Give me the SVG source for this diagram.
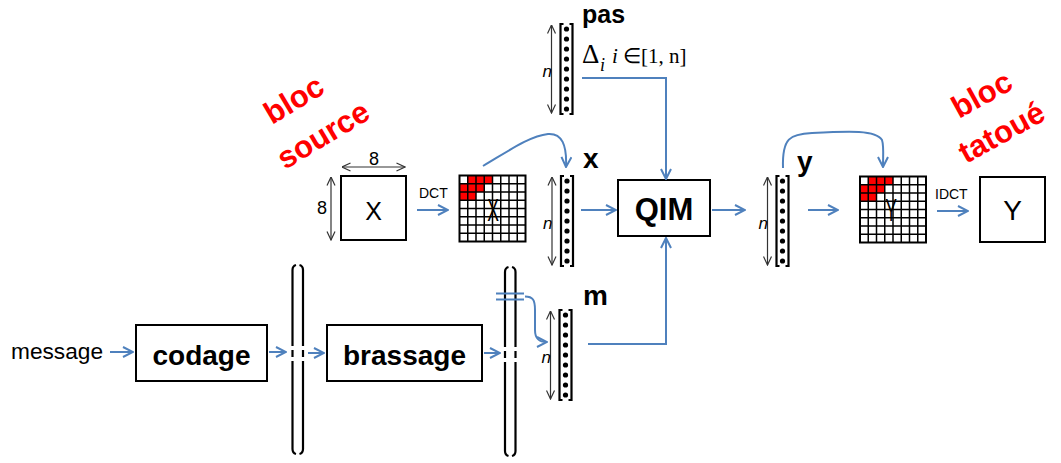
<svg xmlns="http://www.w3.org/2000/svg" width="1061" height="463" viewBox="0 0 1061 463">
<style>
.box{fill:#fff;stroke:#000;stroke-width:2}
.blue{fill:none;stroke:#4F81BD;stroke-width:2}
.dim{fill:none;stroke:#333;stroke-width:1.2}
.brk{fill:none;stroke:#000;stroke-width:2.2}
.t{font-family:"Liberation Sans",Arial,sans-serif;fill:#000}
.b{font-family:"Liberation Sans",Arial,sans-serif;font-weight:bold;fill:#000}
.red{font-family:"Liberation Sans",Arial,sans-serif;font-weight:bold;fill:#FF0000;font-size:31px}
.n{font-family:"Liberation Sans",Arial,sans-serif;font-style:italic;font-size:17px;fill:#000}
.ser{font-family:"Liberation Serif","Times New Roman",serif;fill:#000}
.gl{fill:none;stroke:#000;stroke-width:1.5}
</style>
<defs>
<marker id="ab" viewBox="0 0 12 12" refX="11" refY="6" markerWidth="12" markerHeight="12" markerUnits="userSpaceOnUse" orient="auto">
<path d="M1,1 L11,6 L1,11" fill="none" stroke="#4F81BD" stroke-width="2"/>
</marker>
<marker id="ak" viewBox="0 0 10 10" refX="9.5" refY="5" markerWidth="10" markerHeight="10" markerUnits="userSpaceOnUse" orient="auto-start-reverse">
<path d="M1,1 L9.5,5 L1,9" fill="none" stroke="#333" stroke-width="1.2"/>
</marker>
<g id="vec">
<line class="dim" x1="0" y1="2" x2="0" y2="90" marker-start="url(#ak)" marker-end="url(#ak)"/>
<text class="n" x="-9" y="54">n</text>
<path class="brk" d="M12,1 L9,1 L9,91 L12,91"/>
<path class="brk" d="M18,1 L21,1 L21,91 L18,91"/>
<g fill="#000">
<circle cx="15" cy="6" r="2.6"/><circle cx="15" cy="16" r="2.6"/><circle cx="15" cy="26" r="2.6"/>
<circle cx="15" cy="36" r="2.6"/><circle cx="15" cy="46" r="2.6"/><circle cx="15" cy="56" r="2.6"/>
<circle cx="15" cy="66" r="2.6"/><circle cx="15" cy="76" r="2.6"/><circle cx="15" cy="86" r="2.6"/>
</g>
</g>
<g id="grid">
<rect x="0" y="0" width="66" height="66" fill="#fff"/>
<g fill="#FF0000">
<rect x="8.25" y="0" width="24.75" height="8.25"/>
<rect x="0" y="8.25" width="24.75" height="8.25"/>
<rect x="0" y="16.5" width="16.5" height="8.25"/>
</g>
<path class="gl" d="M8.25,0V66M16.5,0V66M24.75,0V66M33,0V66M41.25,0V66M49.5,0V66M57.75,0V66M0,8.25H66M0,16.5H66M0,24.75H66M0,33H66M0,41.25H66M0,49.5H66M0,57.75H66"/>
<rect x="0" y="0" width="66" height="66" fill="none" stroke="#000" stroke-width="2"/>
</g>
</defs>

<!-- labels -->
<g id="bloc-source">
<text class="red" transform="translate(272,125) rotate(-31)">bloc</text>
<text class="red" transform="translate(285,170) rotate(-31)">source</text>
</g>
<g id="bloc-tatoue">
<text class="red" transform="translate(959,119) rotate(-29)">bloc</text>
<text class="red" transform="translate(966,164) rotate(-29)">tatoué</text>
</g>

<!-- source block X -->
<g id="block-X">
<rect class="box" x="341" y="176" width="65" height="64"/>
<text class="t" x="373.5" y="220" font-size="25" text-anchor="middle">X</text>
<line class="dim" x1="342" y1="167" x2="405" y2="167" marker-start="url(#ak)" marker-end="url(#ak)"/>
<text class="t" x="374" y="165" font-size="18" text-anchor="middle">8</text>
<line class="dim" x1="331" y1="177" x2="331" y2="240" marker-start="url(#ak)" marker-end="url(#ak)"/>
<text class="t" x="322" y="214" font-size="18" text-anchor="middle">8</text>
</g>

<g id="dct-X">
<use href="#grid" x="459.5" y="175.5"/>
<text class="t" transform="translate(493,221) scale(0.55,1)" font-size="32" text-anchor="middle">X</text>
</g>

<g id="vec-pas">
<use href="#vec" x="551.5" y="23"/>
<text class="b" x="582" y="23" font-size="25">pas</text>
<text class="ser" x="582" y="63" font-size="27">Δ</text>
<text class="ser" x="600" y="71" font-size="18" font-style="italic">i</text>
<text class="ser" x="612" y="63" font-size="21"><tspan font-style="italic">i</tspan> ∈[1, n]</text>
</g>

<g id="vec-x">
<use href="#vec" x="552" y="175"/>
<text class="b" x="583" y="168" font-size="28">x</text>
</g>

<g id="qim">
<rect class="box" x="618" y="180" width="92" height="56"/>
<text class="b" x="664" y="220" font-size="31" text-anchor="middle">QIM</text>
</g>

<g id="vec-y">
<use href="#vec" x="767.5" y="175"/>
<text class="b" x="797" y="171" font-size="28">y</text>
</g>

<g id="dct-Y">
<use href="#grid" x="860" y="176.5"/>
<text class="t" transform="translate(891,221) scale(0.55,1)" font-size="32" text-anchor="middle">Y</text>
</g>

<g id="block-Y">
<rect class="box" x="980" y="177" width="65" height="65"/>
<text class="t" x="1012.5" y="220" font-size="28" text-anchor="middle">Y</text>
</g>

<g id="message">
<text class="t" x="11" y="359" font-size="22" textLength="92" lengthAdjust="spacingAndGlyphs">message</text>
</g>

<g id="codage">
<rect class="box" x="136" y="325" width="131" height="56"/>
<text class="b" x="201.5" y="365" font-size="28" text-anchor="middle">codage</text>
</g>

<g id="bracket-1">
<path class="brk" d="M296,265 Q292.5,266 292.5,270 L292.5,346 M292.5,350 L292.5,357 M292.5,361 L292.5,449 Q292.5,453 296,454"/>
<path class="brk" d="M299.5,265 Q303,266 303,270 L303,346 M303,350 L303,357 M303,361 L303,449 Q303,453 299.5,454"/>
</g>

<g id="brassage">
<rect class="box" x="327" y="325" width="155" height="56"/>
<text class="b" x="404.5" y="365" font-size="28" text-anchor="middle">brassage</text>
</g>

<g id="bracket-2">
<path class="brk" d="M508.5,267 Q505,268 505,272 L505,347 M505,351 L505,358 M505,362 L505,451 Q505,455 508.5,456"/>
<path class="brk" d="M512,267 Q515.5,268 515.5,272 L515.5,347 M515.5,351 L515.5,358 M515.5,362 L515.5,451 Q515.5,455 512,456"/>
</g>

<g id="vec-m">
<use href="#vec" x="550.5" y="309"/>
<text class="b" x="583" y="305" font-size="28">m</text>
</g>

<g id="connectors">
<line class="blue" x1="417" y1="210" x2="448" y2="210" marker-end="url(#ab)"/>
<text class="t" x="419" y="198" font-size="14">DCT</text>
<path class="blue" d="M483,166 C510,150 530,136 548,134 C562,133 567,145 566,167" marker-end="url(#ab)"/>
<path class="blue" d="M582,78 L666,78 L666,179" marker-end="url(#ab)"/>
<line class="blue" x1="581" y1="210" x2="616" y2="210" marker-end="url(#ab)"/>
<line class="blue" x1="712" y1="210" x2="745" y2="210" marker-end="url(#ab)"/>
<path class="blue" d="M783,168 C782,138 790,134 812,133 C850,131 876,130 882,140 C884,146 883,155 883,167" marker-end="url(#ab)"/>
<line class="blue" x1="808" y1="210" x2="838" y2="210" marker-end="url(#ab)"/>
<line class="blue" x1="937" y1="211" x2="968" y2="211" marker-end="url(#ab)"/>
<text class="t" x="935" y="199" font-size="14">IDCT</text>
<line class="blue" x1="110" y1="352" x2="133" y2="352" marker-end="url(#ab)"/>
<line class="blue" x1="269" y1="352" x2="286" y2="352" marker-end="url(#ab)"/>
<line class="blue" x1="308" y1="353" x2="324" y2="353" marker-end="url(#ab)"/>
<line class="blue" x1="484" y1="353" x2="500" y2="353" marker-end="url(#ab)"/>
<path class="blue" d="M496,293.5 H524 M496,299.5 H524"/>
<path class="blue" d="M525,296.5 C533,296.5 535,300 535,310 L535,330 C535,339 539,342 547,342" marker-end="url(#ab)"/>
<path class="blue" d="M588,344 L666,344 L666,238" marker-end="url(#ab)"/>
</g>
</svg>
